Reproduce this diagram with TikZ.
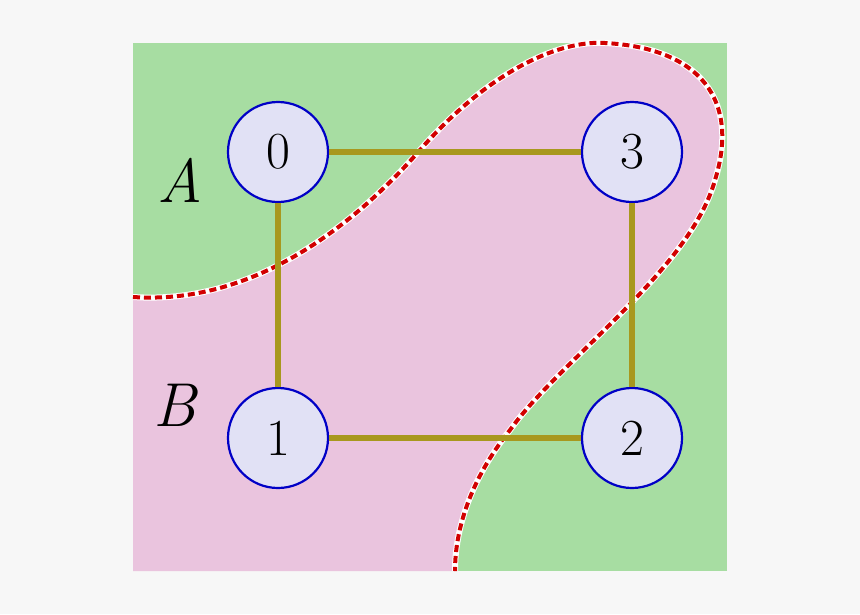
\documentclass[tikz,border=0pt]{standalone}
\definecolor{bg}{RGB}{247,247,247}
\definecolor{grn}{RGB}{167,221,162}
\definecolor{pnk}{RGB}{234,196,222}
\definecolor{nodefill}{RGB}{225,225,245}
\definecolor{olive}{RGB}{168,152,30}
\definecolor{dred}{RGB}{210,0,0}
\begin{document}
\begin{tikzpicture}[x=1pt,y=-1pt,
  vert/.style={circle,draw={rgb:blue,7;black,2},line width=2.2pt,fill=nodefill,minimum size=100pt,inner sep=0pt,font=\fontsize{52}{52}\selectfont},
  edge/.style={draw=olive,line width=6pt},
  lab/.style={font=\fontsize{62}{62}\selectfont\itshape}]
\fill[bg] (0,0) rectangle (860,614);
\useasboundingbox (0,0) rectangle (860,614);
\fill[grn] (133,43) rectangle (727,571);
\def\bnd{(133,297) .. controls (250,305) and (350,230) .. (420,150) .. controls (490,70) and (560,40) .. (605,43) .. controls (700,48) and (740,100) .. (715,180) .. controls (690,270) and (560,360) .. (510,430) .. controls (470,480) and (455,530) .. (455,571)}
\begin{scope}
\clip (133,43) rectangle (727,571);
\fill[pnk] \bnd -- (133,571) -- cycle;
\end{scope}
\draw[white,line width=6pt] \bnd;
\draw[dred,line width=4pt,dash pattern=on 7pt off 4pt] \bnd;
\node[vert] (n0) at (278,152) {0};
\node[vert] (n3) at (632,152) {3};
\node[vert] (n1) at (278,438) {1};
\node[vert] (n2) at (632,438) {2};
\path[edge] (n0) -- (n3);
\path[edge] (n3) -- (n2);
\path[edge] (n2) -- (n1);
\path[edge] (n1) -- (n0);
\node[lab] (A) at (180,180) {A};
\node[lab] (B) at (175,405) {B};
\end{tikzpicture}
\end{document}
